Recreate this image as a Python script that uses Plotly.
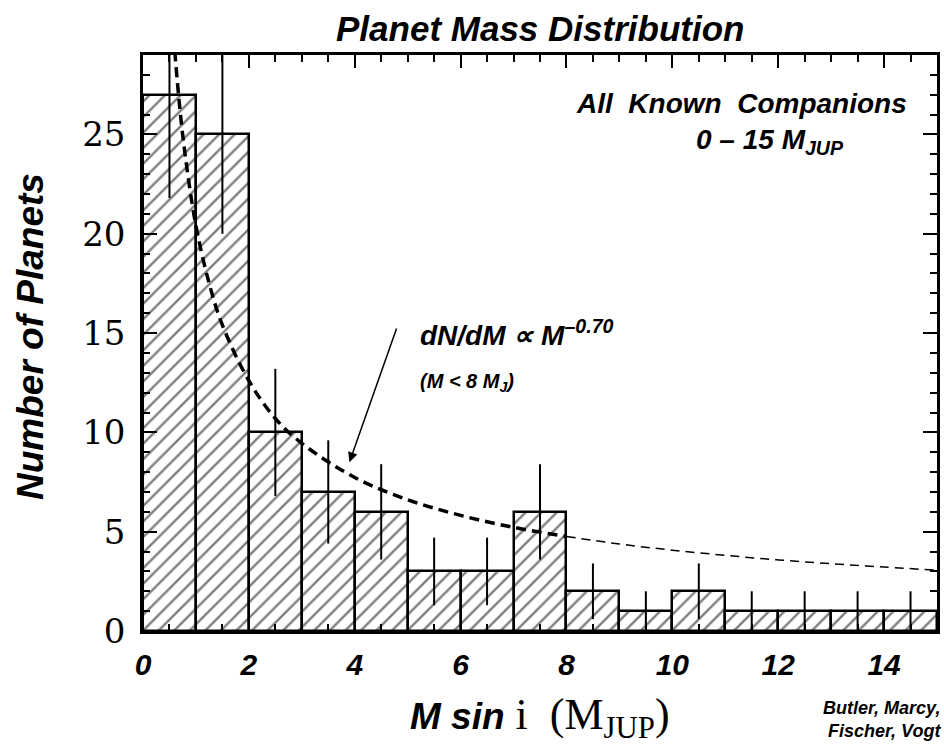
import plotly.graph_objects as go

# ---- data ----
bin_centers = [0.5, 1.5, 2.5, 3.5, 4.5, 5.5, 6.5, 7.5, 8.5, 9.5, 10.5, 11.5, 12.5, 13.5, 14.5]
counts = [27, 25, 10, 7, 6, 3, 3, 6, 2, 1, 2, 1, 1, 1, 1]
count_errors = [5.2, 5.0, 3.2, 2.6, 2.4, 1.7, 1.7, 2.4, 1.4, 1.0, 1.4, 1.0, 1.0, 1.0, 1.0]

fit_mass_low = [0.6, 0.7, 0.8, 1.0, 1.25, 1.5, 2.0, 2.5, 3.0, 4.0, 5.0, 6.0, 7.0, 8.0]
fit_count_low = [29.2, 26.2, 23.9, 20.4, 17.5, 15.4, 12.6, 10.7, 9.45, 7.73, 6.61, 5.82, 5.22, 4.76]
fit_mass_high = [8.0, 9.0, 10.0, 11.0, 12.0, 13.0, 14.0, 15.0]
fit_count_high = [4.76, 4.38, 4.07, 3.81, 3.58, 3.39, 3.22, 3.06]

x_tick_vals = [0, 2, 4, 6, 8, 10, 12, 14]
x_tick_text = ["0", "2", "4", "6", "8", "10", "12", "14"]
y_tick_vals = [0, 5, 10, 15, 20, 25]
y_tick_text = ["0", "5", "10", "15", "20", "25"]

SANS = "Liberation Sans, Arial, sans-serif"
SERIF = "DejaVu Serif, serif"

fig = go.Figure()

fig.add_trace(go.Bar(
    x=bin_centers, y=counts, width=1.0,
    marker=dict(color="white",
                line=dict(color="black", width=2.5),
                pattern=dict(shape="/", fgcolor="black", bgcolor="white",
                             size=11, solidity=0.22)),
    error_y=dict(type="data", array=count_errors, visible=True,
                 color="black", thickness=2, width=0),
    showlegend=False,
))

fig.add_trace(go.Scatter(
    x=fit_mass_low, y=fit_count_low, mode="lines", line_shape="spline",
    line=dict(color="black", width=3.5, dash="10px,6px"), showlegend=False,
))
fig.add_trace(go.Scatter(
    x=fit_mass_high, y=fit_count_high, mode="lines", line_shape="spline",
    line=dict(color="black", width=1.5, dash="9px,6px"), showlegend=False,
))

fig.update_xaxes(
    range=[0, 15], showline=True, linecolor="black", linewidth=2.5, mirror="ticks",
    ticks="inside", ticklen=13, tickwidth=2, tickcolor="black",
    tickvals=x_tick_vals, ticktext=x_tick_text,
    minor=dict(dtick=0.5, tick0=0, ticks="inside", ticklen=7, tickwidth=2, tickcolor="black"),
    tickfont=dict(family=SANS, size=30, color="black", weight="bold", style="italic"),
    ticklabelstandoff=5,
    showgrid=False, zeroline=False,
)
fig.update_yaxes(
    range=[0, 29], showline=True, linecolor="black", linewidth=2.5, mirror="ticks",
    ticks="inside", ticklen=14, tickwidth=2, tickcolor="black",
    tickvals=y_tick_vals, ticktext=y_tick_text,
    minor=dict(dtick=1, tick0=0, ticks="inside", ticklen=7, tickwidth=2, tickcolor="black"),
    tickfont=dict(family=SERIF, size=34, color="black"),
    ticklabelstandoff=8,
    showgrid=False, zeroline=False,
)

bi = dict(family=SANS, color="black", weight="bold", style="italic")

fig.add_annotation(text="Planet Mass Distribution", xref="paper", yref="paper",
                   x=0.5, y=1.0, yshift=27, showarrow=False,
                   font=dict(size=35, **bi), xanchor="center", yanchor="middle")
fig.add_annotation(text="Number of Planets", xref="paper", yref="paper",
                   x=0, y=0.5, xshift=-113, yshift=6, showarrow=False, textangle=-90,
                   font=dict(size=37, **bi), xanchor="center", yanchor="middle")
fig.add_annotation(
    text="<b><i>M sin</i></b><span style='font-family:Liberation Serif;font-size:44px'> i  (M<sub>JUP</sub>)</span>",
    xref="paper", yref="paper", x=0.5, y=0, yshift=-86, showarrow=False,
    font=dict(family=SANS, size=37, color="black"), xanchor="center", yanchor="middle")
fig.add_annotation(text="All  Known  Companions", xref="paper", yref="paper",
                   x=0.965, y=0.915, showarrow=False,
                   font=dict(size=28, **bi), xanchor="right", yanchor="middle")
fig.add_annotation(text="0 – 15 M<sub>JUP</sub>", xref="paper", yref="paper",
                   x=0.885, y=0.85, showarrow=False,
                   font=dict(size=28, **bi), xanchor="right", yanchor="middle")
fig.add_annotation(text="dN/dM ∝ M<sup>–0.70</sup>", x=5.2, y=15.0,
                   showarrow=False, font=dict(size=28, **bi),
                   xanchor="left", yanchor="middle")
fig.add_annotation(text="(M < 8 M<sub>J</sub>)", x=5.2, y=12.5,
                   showarrow=False, font=dict(size=20, **bi),
                   xanchor="left", yanchor="middle")
fig.add_annotation(x=3.9, y=8.5, ax=4.8, ay=15.3, axref="x", ayref="y",
                   text="", showarrow=True, arrowhead=2, arrowsize=1.3,
                   arrowwidth=1.5, arrowcolor="black")
fig.add_annotation(text="Butler, Marcy,<br>Fischer, Vogt", xref="paper", yref="paper",
                   x=1.0, y=0, xshift=6, yshift=-88, showarrow=False, align="right",
                   font=dict(size=18, **bi), xanchor="right", yanchor="middle")

fig.update_layout(
    width=944, height=749,
    margin=dict(l=143, r=4, t=55, b=118),
    paper_bgcolor="white", plot_bgcolor="white",
    bargap=0,
)

fig.write_html("out.html")
